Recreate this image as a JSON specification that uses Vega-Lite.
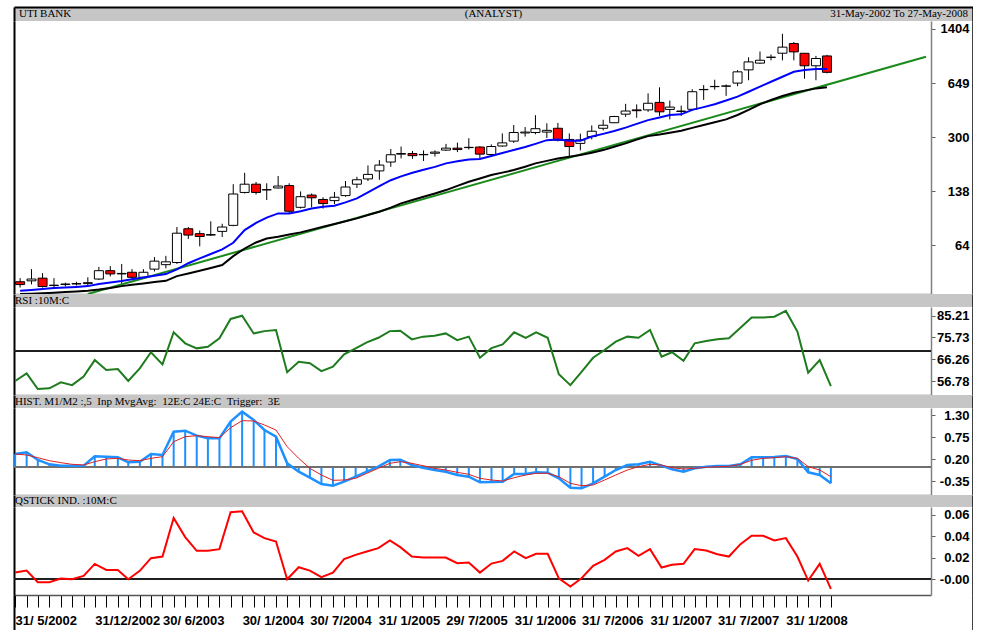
{
"$schema":"https://vega.github.io/schema/vega-lite/v6.json",
"background":"white",
"padding":{"left":10,"top":7,"right":0,"bottom":0},
"spacing":0,
"bounds":"flush",
"config":{"view":{"stroke":null},"font":"Liberation Sans"},
"datasets":{
"m":[
{"date":"2002-05-01T00:00","open":38,"high":40,"low":35,"close":36.5,"maShort":33.4,"maLong":31.9,"rsi":56.8,"hist":0.325,"trigger":0.325,"qstick":0.0062},
{"date":"2002-06-01T00:00","open":38.5,"high":45.5,"low":36.6,"close":39.5,"maShort":33.8,"maLong":32.0,"rsi":60.1,"hist":0.367,"trigger":0.30,"qstick":0.0081},
{"date":"2002-07-01T00:00","open":40,"high":43,"low":35,"close":35.5,"maShort":34.3,"maLong":32.2,"rsi":53.3,"hist":0.175,"trigger":0.233,"qstick":-0.0028},
{"date":"2002-08-01T00:00","open":36,"high":40,"low":34.5,"close":36.2,"maShort":34.8,"maLong":32.5,"rsi":53.6,"hist":0.067,"trigger":0.158,"qstick":-0.0028},
{"date":"2002-09-01T00:00","open":36.5,"high":37.5,"low":35.5,"close":36.8,"maShort":35.0,"maLong":32.8,"rsi":56.2,"hist":0.033,"trigger":0.108,"qstick":0.0006},
{"date":"2002-10-01T00:00","open":36.8,"high":38,"low":36,"close":37,"maShort":35.3,"maLong":33.1,"rsi":55.0,"hist":0.033,"trigger":0.067,"qstick":0},
{"date":"2002-11-01T00:00","open":37,"high":40.5,"low":36,"close":37.5,"maShort":35.7,"maLong":33.4,"rsi":58.7,"hist":0.033,"trigger":0.05,"qstick":0.0031},
{"date":"2002-12-01T00:00","open":39.5,"high":47,"low":39,"close":44.5,"maShort":36.8,"maLong":34.0,"rsi":65.9,"hist":0.267,"trigger":0.133,"qstick":0.0143},
{"date":"2003-01-01T00:00","open":44.5,"high":47.5,"low":41,"close":42.5,"maShort":37.6,"maLong":34.8,"rsi":61.6,"hist":0.258,"trigger":0.2,"qstick":0.0087},
{"date":"2003-02-01T00:00","open":42.5,"high":49,"low":36.5,"close":42.8,"maShort":38.4,"maLong":35.7,"rsi":62.0,"hist":0.242,"trigger":0.217,"qstick":0.0087},
{"date":"2003-03-01T00:00","open":43.5,"high":45.5,"low":39,"close":40.5,"maShort":39.4,"maLong":36.4,"rsi":56.8,"hist":0.117,"trigger":0.175,"qstick":0},
{"date":"2003-04-01T00:00","open":40.5,"high":45.5,"low":40,"close":43.5,"maShort":40.4,"maLong":37.1,"rsi":62.3,"hist":0.133,"trigger":0.158,"qstick":0.0078},
{"date":"2003-05-01T00:00","open":45.5,"high":54,"low":44,"close":51,"maShort":41.4,"maLong":37.8,"rsi":69.3,"hist":0.325,"trigger":0.217,"qstick":0.0196},
{"date":"2003-06-01T00:00","open":48.5,"high":55,"low":46,"close":50.5,"maShort":42.4,"maLong":38.5,"rsi":64.0,"hist":0.30,"trigger":0.258,"qstick":0.0211},
{"date":"2003-07-01T00:00","open":50,"high":83,"low":49,"close":76,"maShort":45.3,"maLong":41.2,"rsi":78.0,"hist":0.883,"trigger":0.633,"qstick":0.0569},
{"date":"2003-08-01T00:00","open":81,"high":83,"low":70,"close":74,"maShort":49.5,"maLong":42.8,"rsi":73.2,"hist":0.908,"trigger":0.758,"qstick":0.0392},
{"date":"2003-09-01T00:00","open":75.5,"high":79,"low":63,"close":72.5,"maShort":53,"maLong":44.5,"rsi":71.0,"hist":0.783,"trigger":0.783,"qstick":0.0264},
{"date":"2003-10-01T00:00","open":74,"high":90,"low":73,"close":74.5,"maShort":56.5,"maLong":46.3,"rsi":71.7,"hist":0.717,"trigger":0.758,"qstick":0.0264},
{"date":"2003-11-01T00:00","open":78,"high":87,"low":72,"close":83,"maShort":60.3,"maLong":48.2,"rsi":75.4,"hist":0.717,"trigger":0.733,"qstick":0.028},
{"date":"2003-12-01T00:00","open":85,"high":153,"low":84,"close":133,"maShort":66.3,"maLong":54.8,"rsi":83.8,"hist":1.133,"trigger":0.983,"qstick":0.0622},
{"date":"2004-01-01T00:00","open":136,"high":180,"low":134,"close":153,"maShort":79.4,"maLong":61.1,"rsi":85.2,"hist":1.383,"trigger":1.158,"qstick":0.0631},
{"date":"2004-02-01T00:00","open":153,"high":158,"low":132,"close":136,"maShort":88,"maLong":66.6,"rsi":77.5,"hist":1.175,"trigger":1.15,"qstick":0.0435},
{"date":"2004-03-01T00:00","open":141,"high":155,"low":122,"close":141.5,"maShort":95,"maLong":70.5,"rsi":78.5,"hist":0.925,"trigger":1.05,"qstick":0.0382},
{"date":"2004-04-01T00:00","open":145,"high":172,"low":144,"close":149,"maShort":100.8,"maLong":72.2,"rsi":79.0,"hist":0.758,"trigger":0.925,"qstick":0.0351},
{"date":"2004-05-01T00:00","open":150,"high":155,"low":100,"close":104,"maShort":100.8,"maLong":74.5,"rsi":60.6,"hist":0.092,"trigger":0.508,"qstick":0},
{"date":"2004-06-01T00:00","open":110,"high":138,"low":108,"close":128,"maShort":104,"maLong":76.9,"rsi":65.2,"hist":-0.117,"trigger":0.217,"qstick":0.0112},
{"date":"2004-07-01T00:00","open":131,"high":134,"low":110,"close":126,"maShort":108,"maLong":80,"rsi":64.5,"hist":-0.267,"trigger":-0.033,"qstick":0.0081},
{"date":"2004-08-01T00:00","open":123,"high":127,"low":108,"close":116,"maShort":110.9,"maLong":83.4,"rsi":61.1,"hist":-0.425,"trigger":-0.2,"qstick":0.0019},
{"date":"2004-09-01T00:00","open":121,"high":137,"low":115,"close":127,"maShort":112.5,"maLong":86.7,"rsi":63.0,"hist":-0.467,"trigger":-0.333,"qstick":0.0062},
{"date":"2004-10-01T00:00","open":130,"high":160,"low":128,"close":147,"maShort":118,"maLong":90.2,"rsi":68.4,"hist":-0.367,"trigger":-0.325,"qstick":0.0187},
{"date":"2004-11-01T00:00","open":153,"high":170,"low":145,"close":163,"maShort":125,"maLong":93.9,"rsi":71.0,"hist":-0.242,"trigger":-0.283,"qstick":0.0227},
{"date":"2004-12-01T00:00","open":165,"high":200,"low":160,"close":176,"maShort":136,"maLong":98.5,"rsi":73.6,"hist":-0.117,"trigger":-0.158,"qstick":0.0258},
{"date":"2005-01-01T00:00","open":185,"high":216,"low":163,"close":201,"maShort":149,"maLong":103.2,"rsi":75.6,"hist":0.008,"trigger":-0.033,"qstick":0.0289},
{"date":"2005-02-01T00:00","open":210,"high":253,"low":196,"close":233,"maShort":162,"maLong":109.5,"rsi":78.5,"hist":0.175,"trigger":0.092,"qstick":0.0361},
{"date":"2005-03-01T00:00","open":235,"high":262,"low":221,"close":237,"maShort":171,"maLong":116.3,"rsi":78.7,"hist":0.183,"trigger":0.133,"qstick":0.0298},
{"date":"2005-04-01T00:00","open":237,"high":246,"low":220,"close":230,"maShort":180,"maLong":122,"rsi":74.9,"hist":0.05,"trigger":0.092,"qstick":0.0211},
{"date":"2005-05-01T00:00","open":233,"high":248,"low":213,"close":234,"maShort":188,"maLong":127.9,"rsi":76.1,"hist":-0.017,"trigger":0.033,"qstick":0.0202},
{"date":"2005-06-01T00:00","open":238,"high":248,"low":227,"close":242,"maShort":196,"maLong":134,"rsi":76.5,"hist":-0.075,"trigger":-0.033,"qstick":0.0202},
{"date":"2005-07-01T00:00","open":249,"high":272,"low":246,"close":256,"maShort":206,"maLong":140.7,"rsi":77.5,"hist":-0.117,"trigger":-0.075,"qstick":0.0202},
{"date":"2005-08-01T00:00","open":256,"high":277,"low":242,"close":251,"maShort":212,"maLong":149.5,"rsi":74.6,"hist":-0.2,"trigger":-0.133,"qstick":0.0149},
{"date":"2005-09-01T00:00","open":258,"high":295,"low":251,"close":259,"maShort":218,"maLong":158.5,"rsi":76.1,"hist":-0.242,"trigger":-0.183,"qstick":0.0155},
{"date":"2005-10-01T00:00","open":260,"high":264,"low":221,"close":235,"maShort":219,"maLong":166,"rsi":66.9,"hist":-0.383,"trigger":-0.283,"qstick":0.0062},
{"date":"2005-11-01T00:00","open":234,"high":270,"low":228,"close":262,"maShort":229,"maLong":174.3,"rsi":71.1,"hist":-0.375,"trigger":-0.325,"qstick":0.0146},
{"date":"2005-12-01T00:00","open":264,"high":316,"low":261,"close":276,"maShort":239,"maLong":180.5,"rsi":72.7,"hist":-0.367,"trigger":-0.35,"qstick":0.0171},
{"date":"2006-01-01T00:00","open":283,"high":356,"low":276,"close":320,"maShort":249,"maLong":187.2,"rsi":78.0,"hist":-0.175,"trigger":-0.267,"qstick":0.0258},
{"date":"2006-02-01T00:00","open":318,"high":346,"low":302,"close":322,"maShort":260,"maLong":196.5,"rsi":75.6,"hist":-0.175,"trigger":-0.2,"qstick":0.0196},
{"date":"2006-03-01T00:00","open":320,"high":410,"low":312,"close":338,"maShort":272,"maLong":206,"rsi":78.0,"hist":-0.133,"trigger":-0.158,"qstick":0.0236},
{"date":"2006-04-01T00:00","open":322,"high":365,"low":296,"close":330,"maShort":287,"maLong":213.5,"rsi":75.6,"hist":-0.142,"trigger":-0.158,"qstick":0.0236},
{"date":"2006-05-01T00:00","open":340,"high":367,"low":282,"close":287,"maShort":290,"maLong":221,"rsi":59.7,"hist":-0.283,"trigger":-0.242,"qstick":0.0009},
{"date":"2006-06-01T00:00","open":290,"high":316,"low":228,"close":262,"maShort":285,"maLong":226.6,"rsi":55.0,"hist":-0.517,"trigger":-0.408,"qstick":-0.0068},
{"date":"2006-07-01T00:00","open":274,"high":315,"low":248,"close":288,"maShort":285,"maLong":232,"rsi":60.8,"hist":-0.533,"trigger":-0.467,"qstick":0.0009},
{"date":"2006-08-01T00:00","open":302,"high":354,"low":290,"close":326,"maShort":302,"maLong":240,"rsi":66.9,"hist":-0.408,"trigger":-0.45,"qstick":0.0124},
{"date":"2006-09-01T00:00","open":340,"high":384,"low":330,"close":355,"maShort":314,"maLong":249,"rsi":70.3,"hist":-0.242,"trigger":-0.325,"qstick":0.018},
{"date":"2006-10-01T00:00","open":368,"high":406,"low":366,"close":402,"maShort":327,"maLong":261,"rsi":73.9,"hist":-0.075,"trigger":-0.2,"qstick":0.0258},
{"date":"2006-11-01T00:00","open":416,"high":482,"low":400,"close":435,"maShort":343,"maLong":274,"rsi":76.1,"hist":0.05,"trigger":-0.075,"qstick":0.0289},
{"date":"2006-12-01T00:00","open":442,"high":478,"low":395,"close":437,"maShort":362,"maLong":289,"rsi":75.6,"hist":0.067,"trigger":0.008,"qstick":0.0218},
{"date":"2007-01-01T00:00","open":442,"high":560,"low":430,"close":486,"maShort":382,"maLong":304,"rsi":79.0,"hist":0.133,"trigger":0.067,"qstick":0.028},
{"date":"2007-02-01T00:00","open":492,"high":610,"low":406,"close":430,"maShort":397,"maLong":311,"rsi":67.4,"hist":0.033,"trigger":0.05,"qstick":0.0109},
{"date":"2007-03-01T00:00","open":445,"high":505,"low":386,"close":460,"maShort":411,"maLong":319,"rsi":69.3,"hist":-0.058,"trigger":-0.017,"qstick":0.0134},
{"date":"2007-04-01T00:00","open":432,"high":470,"low":406,"close":435,"maShort":415,"maLong":328,"rsi":65.6,"hist":-0.117,"trigger":-0.05,"qstick":0.0143},
{"date":"2007-05-01T00:00","open":446,"high":593,"low":437,"close":573,"maShort":442,"maLong":342,"rsi":73.2,"hist":-0.033,"trigger":-0.033,"qstick":0.028},
{"date":"2007-06-01T00:00","open":590,"high":630,"low":510,"close":592,"maShort":460,"maLong":356,"rsi":74.2,"hist":0.008,"trigger":-0.008,"qstick":0.0267},
{"date":"2007-07-01T00:00","open":616,"high":680,"low":590,"close":618,"maShort":479,"maLong":371,"rsi":75.0,"hist":0.025,"trigger":0.008,"qstick":0.0233},
{"date":"2007-08-01T00:00","open":620,"high":636,"low":540,"close":622,"maShort":505,"maLong":386,"rsi":75.4,"hist":0.025,"trigger":0.017,"qstick":0.0211},
{"date":"2007-09-01T00:00","open":648,"high":780,"low":620,"close":761,"maShort":534,"maLong":411,"rsi":80.0,"hist":0.067,"trigger":0.067,"qstick":0.0326},
{"date":"2007-10-01T00:00","open":783,"high":936,"low":675,"close":877,"maShort":573,"maLong":442,"rsi":84.4,"hist":0.242,"trigger":0.167,"qstick":0.0404},
{"date":"2007-11-01T00:00","open":862,"high":1017,"low":853,"close":898,"maShort":616,"maLong":479,"rsi":84.4,"hist":0.242,"trigger":0.217,"qstick":0.0404},
{"date":"2007-12-01T00:00","open":936,"high":975,"low":897,"close":938,"maShort":661,"maLong":509,"rsi":84.8,"hist":0.25,"trigger":0.233,"qstick":0.0361},
{"date":"2008-01-01T00:00","open":993,"high":1310,"low":897,"close":1083,"maShort":710,"maLong":539,"rsi":87.3,"hist":0.275,"trigger":0.258,"qstick":0.0382},
{"date":"2008-02-01T00:00","open":1140,"high":1165,"low":897,"close":1012,"maShort":762,"maLong":565,"rsi":78.3,"hist":0.2,"trigger":0.217,"qstick":0.0211},
{"date":"2008-03-01T00:00","open":992,"high":995,"low":690,"close":830,"maShort":781,"maLong":582,"rsi":60.4,"hist":-0.133,"trigger":0.008,"qstick":-0.0012},
{"date":"2008-04-01T00:00","open":830,"high":955,"low":675,"close":921,"maShort":792,"maLong":601,"rsi":65.9,"hist":-0.2,"trigger":-0.075,"qstick":0.0143},
{"date":"2008-05-01T00:00","open":955,"high":970,"low":745,"close":756,"maShort":792,"maLong":610,"rsi":54.6,"hist":-0.408,"trigger":-0.242,"qstick":-0.009}
],
"trend":[
{"date":"2002-11-01T00:00","value":31.9},
{"date":"2009-01-25T00:00","value":945}
],
"headers":[
{"panel":"main","side":"left","label":"UTI BANK"},
{"panel":"main","side":"center","label":"(ANALYST)"},
{"panel":"main","side":"right","label":"31-May-2002 To 27-May-2008"},
{"panel":"rsi","side":"left","label":"RSI :10M:C"},
{"panel":"hist","side":"left","label":"HIST. M1/M2 :,5 \u00a0Inp MvgAvg: \u00a012E:C 24E:C \u00a0Trigger: \u00a03E"},
{"panel":"qstick","side":"left","label":"QSTICK IND. :10M:C"}
],
"one":[{"k":1}]
},
"vconcat":[
{
"width":959,"height":14,
"view":{"fill":"#c6c6c6","stroke":null},
"layer":[
{"data":{"name":"headers"},"transform":[{"filter":"datum.panel === 'main' && datum.side === 'left'"}],
"mark":{"type":"text","align":"left","baseline":"middle","dx":5,"font":"Liberation Serif","fontSize":11,"color":"#000"},
"encoding":{"x":{"datum":0,"type":"quantitative","scale":{"domain":[0,1]},"axis":{"orient":"top","domainColor":"#000","domainWidth":2,"ticks":false,"labels":false,"grid":false,"title":null}},
"y":{"datum":0.5,"type":"quantitative","scale":{"domain":[0,1]},"axis":{"orient":"left","domainColor":"#000","domainWidth":2,"ticks":false,"labels":false,"grid":false,"title":null}},
"text":{"field":"label"}}},
{"data":{"name":"headers"},"transform":[{"filter":"datum.panel === 'main' && datum.side === 'center'"}],
"mark":{"type":"text","align":"center","baseline":"middle","font":"Liberation Serif","fontSize":11,"color":"#000"},
"encoding":{"x":{"datum":0.5,"type":"quantitative"},"y":{"datum":0.5,"type":"quantitative","scale":{"domain":[0,1]},"axis":null},"text":{"field":"label"}}},
{"data":{"name":"headers"},"transform":[{"filter":"datum.panel === 'main' && datum.side === 'right'"}],
"mark":{"type":"text","align":"right","baseline":"middle","dx":-5,"font":"Liberation Serif","fontSize":11,"color":"#000"},
"encoding":{"x":{"datum":1,"type":"quantitative"},"y":{"datum":0.5,"type":"quantitative","scale":{"domain":[0,1]},"axis":{"orient":"right","domainColor":"#000","domainWidth":2.5,"ticks":false,"labels":false,"grid":false,"title":null}},"text":{"field":"label"}}}
],
"resolve":{"scale":{"y":"independent"}}
},
{
"width":917,"height":273,
"data":{"name":"m"},
"layer":[
{"mark":{"type":"rule","color":"#000","strokeWidth":1,"clip":true},
"encoding":{
"x":{"field":"date","type":"temporal","scale":{"domain":[{"year":2002,"month":4,"date":28},{"year":2009,"month":1,"date":25}]},"axis":{"orient":"bottom","labels":false,"ticks":false,"grid":false,"domainColor":"#808080","domainWidth":1.5,"title":null}},
"y":{"field":"low","type":"quantitative","scale":{"type":"log","domain":[31.9,1573]},"axis":{"orient":"left","domainColor":"#000","domainWidth":2,"ticks":false,"labels":false,"grid":false,"title":null}},
"y2":{"field":"high"}}},
{"mark":{"type":"bar","width":9,"stroke":"#000","strokeWidth":1,"clip":true},
"encoding":{"x":{"field":"date","type":"temporal"},"y":{"field":"open","type":"quantitative","scale":{"type":"log","domain":[31.9,1573]},"axis":null},"y2":{"field":"close"},
"fill":{"condition":{"test":"datum.close < datum.open","value":"#ff0000"},"value":"#ffffff"}}},
{"data":{"name":"trend"},"mark":{"type":"line","color":"#1a8a1a","strokeWidth":2,"clip":true},
"encoding":{"x":{"field":"date","type":"temporal"},"y":{"field":"value","type":"quantitative","scale":{"type":"log","domain":[31.9,1573]},"axis":null}}},
{"mark":{"type":"line","color":"#000","strokeWidth":2,"clip":true},
"encoding":{"x":{"field":"date","type":"temporal"},"y":{"field":"maLong","type":"quantitative","scale":{"type":"log","domain":[31.9,1573]},"axis":{"orient":"right","offset":42,"domainColor":"#000","domainWidth":2.5,"ticks":false,"labels":false,"grid":false,"title":null}}}},
{"mark":{"type":"line","color":"#0000ff","strokeWidth":2,"clip":true},
"encoding":{"x":{"field":"date","type":"temporal"},"y":{"field":"maShort","type":"quantitative","scale":{"type":"log","domain":[31.9,1573]},"axis":{"orient":"right","values":[64,138,300,649,1404],"format":"d","tickSize":4,"tickColor":"#606060","domainColor":"#808080","domainWidth":1.5,"labelAlign":"right","labelBaseline":"middle","labelPadding":34,"labelFont":"Liberation Sans","labelFontWeight":"bold","labelFontSize":13,"labelColor":"#000","grid":false,"title":null}}}}
],
"resolve":{"scale":{"y":"independent"}}
},
{
"width":959,"height":13,
"view":{"fill":"#c6c6c6","stroke":null},
"data":{"name":"headers"},
"transform":[{"filter":"datum.panel === 'rsi'"}],
"layer":[
{"mark":{"type":"text","align":"left","baseline":"middle","dx":1,"font":"Liberation Serif","fontSize":11,"color":"#000"},
"encoding":{"x":{"datum":0,"type":"quantitative","scale":{"domain":[0,1]},"axis":null},
"y":{"datum":0.5,"type":"quantitative","scale":{"domain":[0,1]},"axis":{"orient":"left","domainColor":"#000","domainWidth":2,"ticks":false,"labels":false,"grid":false,"title":null}},
"text":{"field":"label"}}},
{"mark":{"type":"text","opacity":0,"align":"left"},
"encoding":{"x":{"datum":0,"type":"quantitative"},"y":{"datum":0.5,"type":"quantitative","scale":{"domain":[0,1]},"axis":{"orient":"right","domainColor":"#000","domainWidth":2.5,"ticks":false,"labels":false,"grid":false,"title":null}},"text":{"value":""}}}
],
"resolve":{"scale":{"y":"independent"}}
},
{
"width":917,"height":88,
"data":{"name":"m"},
"layer":[
{"mark":{"type":"rule","color":"#222","strokeWidth":1},
"encoding":{"y":{"datum":70,"type":"quantitative","scale":{"domain":[50.7,89.0],"zero":false,"nice":false},"axis":{"orient":"left","domainColor":"#000","domainWidth":2,"ticks":false,"labels":false,"grid":false,"title":null}}}},
{"mark":{"type":"line","color":"#1e7b1e","strokeWidth":2},
"encoding":{"x":{"field":"date","type":"temporal","scale":{"domain":[{"year":2002,"month":4,"date":28},{"year":2009,"month":1,"date":25}]},"axis":{"orient":"bottom","labels":false,"ticks":false,"grid":false,"domainColor":"#808080","domainWidth":1.5,"title":null}},
"y":{"field":"rsi","type":"quantitative","scale":{"domain":[50.7,89.0],"zero":false,"nice":false},"axis":{"orient":"right","values":[56.78,66.26,75.73,85.21],"format":".2f","tickSize":4,"tickColor":"#606060","domainColor":"#808080","domainWidth":1.5,"labelAlign":"right","labelBaseline":"middle","labelPadding":34,"labelFont":"Liberation Sans","labelFontWeight":"bold","labelFontSize":13,"labelColor":"#000","grid":false,"title":null}}}},
{"mark":{"type":"line","opacity":0},
"encoding":{"x":{"field":"date","type":"temporal"},"y":{"field":"rsi","type":"quantitative","scale":{"domain":[50.7,89.0],"zero":false,"nice":false},"axis":{"orient":"right","offset":42,"domainColor":"#000","domainWidth":2.5,"ticks":false,"labels":false,"grid":false,"title":null}}}}
],
"resolve":{"scale":{"y":"independent"}}
},
{
"width":959,"height":13,
"view":{"fill":"#c6c6c6","stroke":null},
"data":{"name":"headers"},
"transform":[{"filter":"datum.panel === 'hist'"}],
"layer":[
{"mark":{"type":"text","align":"left","baseline":"middle","dx":1,"font":"Liberation Serif","fontSize":11,"color":"#000"},
"encoding":{"x":{"datum":0,"type":"quantitative","scale":{"domain":[0,1]},"axis":null},
"y":{"datum":0.5,"type":"quantitative","scale":{"domain":[0,1]},"axis":{"orient":"left","domainColor":"#000","domainWidth":2,"ticks":false,"labels":false,"grid":false,"title":null}},
"text":{"field":"label"}}},
{"mark":{"type":"text","opacity":0,"align":"left"},
"encoding":{"x":{"datum":0,"type":"quantitative"},"y":{"datum":0.5,"type":"quantitative","scale":{"domain":[0,1]},"axis":{"orient":"right","domainColor":"#000","domainWidth":2.5,"ticks":false,"labels":false,"grid":false,"title":null}},"text":{"value":""}}}
],
"resolve":{"scale":{"y":"independent"}}
},
{
"width":917,"height":87,
"data":{"name":"m"},
"layer":[
{"mark":{"type":"rule","color":"#1e90ff","strokeWidth":2},
"encoding":{"x":{"field":"date","type":"temporal","scale":{"domain":[{"year":2002,"month":4,"date":28},{"year":2009,"month":1,"date":25}]},"axis":{"orient":"bottom","labels":false,"ticks":false,"grid":false,"domainColor":"#808080","domainWidth":1.5,"title":null}},
"y":{"field":"hist","type":"quantitative","scale":{"domain":[-0.70,1.475],"zero":false,"nice":false},"axis":{"orient":"left","domainColor":"#000","domainWidth":2,"ticks":false,"labels":false,"grid":false,"title":null}},
"y2":{"datum":0}}},
{"mark":{"type":"rule","color":"#707070","strokeWidth":2},
"encoding":{"y":{"datum":0,"type":"quantitative","scale":{"domain":[-0.70,1.475],"zero":false,"nice":false},"axis":null}}},
{"mark":{"type":"line","color":"#1e90ff","strokeWidth":2.5},
"encoding":{"x":{"field":"date","type":"temporal"},"y":{"field":"hist","type":"quantitative","scale":{"domain":[-0.70,1.475],"zero":false,"nice":false},"axis":{"orient":"right","values":[-0.35,0.2,0.75,1.3],"labelExpr":"datum.value < 0 ? '-' + format(-datum.value, '.2f') : format(datum.value, '.2f')","tickSize":4,"tickColor":"#606060","domainColor":"#808080","domainWidth":1.5,"labelAlign":"right","labelBaseline":"middle","labelPadding":34,"labelFont":"Liberation Sans","labelFontWeight":"bold","labelFontSize":13,"labelColor":"#000","grid":false,"title":null}}}},
{"mark":{"type":"line","color":"#e02020","strokeWidth":1},
"encoding":{"x":{"field":"date","type":"temporal"},"y":{"field":"trigger","type":"quantitative","scale":{"domain":[-0.70,1.475],"zero":false,"nice":false},"axis":{"orient":"right","offset":42,"domainColor":"#000","domainWidth":2.5,"ticks":false,"labels":false,"grid":false,"title":null}}}}
],
"resolve":{"scale":{"y":"independent"}}
},
{
"width":959,"height":12,
"view":{"fill":"#c6c6c6","stroke":null},
"data":{"name":"headers"},
"transform":[{"filter":"datum.panel === 'qstick'"}],
"layer":[
{"mark":{"type":"text","align":"left","baseline":"middle","dx":1,"font":"Liberation Serif","fontSize":11,"color":"#000"},
"encoding":{"x":{"datum":0,"type":"quantitative","scale":{"domain":[0,1]},"axis":null},
"y":{"datum":0.5,"type":"quantitative","scale":{"domain":[0,1]},"axis":{"orient":"left","domainColor":"#000","domainWidth":2,"ticks":false,"labels":false,"grid":false,"title":null}},
"text":{"field":"label"}}},
{"mark":{"type":"text","opacity":0,"align":"left"},
"encoding":{"x":{"datum":0,"type":"quantitative"},"y":{"datum":0.5,"type":"quantitative","scale":{"domain":[0,1]},"axis":{"orient":"right","domainColor":"#000","domainWidth":2.5,"ticks":false,"labels":false,"grid":false,"title":null}},"text":{"value":""}}}
],
"resolve":{"scale":{"y":"independent"}}
},
{
"width":917,"height":88,
"data":{"name":"m"},
"layer":[
{"mark":{"type":"rule","color":"#222","strokeWidth":1},
"encoding":{"y":{"datum":0,"type":"quantitative","scale":{"domain":[-0.0146,0.0671],"zero":false,"nice":false},"axis":{"orient":"left","domainColor":"#000","domainWidth":2,"ticks":false,"labels":false,"grid":false,"title":null}}}},
{"mark":{"type":"line","color":"#ff0000","strokeWidth":2},
"encoding":{"x":{"field":"date","type":"temporal","scale":{"domain":[{"year":2002,"month":4,"date":28},{"year":2009,"month":1,"date":25}]},
"axis":{"orient":"bottom","tickCount":500,"values":[
{"year":2002,"month":5,"date":1},{"year":2002,"month":6,"date":1},{"year":2002,"month":7,"date":1},{"year":2002,"month":8,"date":1},{"year":2002,"month":9,"date":1},{"year":2002,"month":10,"date":1},{"year":2002,"month":11,"date":1},{"year":2002,"month":12,"date":1},
{"year":2003,"month":1,"date":1},{"year":2003,"month":2,"date":1},{"year":2003,"month":3,"date":1},{"year":2003,"month":4,"date":1},{"year":2003,"month":5,"date":1},{"year":2003,"month":6,"date":1},{"year":2003,"month":7,"date":1},{"year":2003,"month":8,"date":1},{"year":2003,"month":9,"date":1},{"year":2003,"month":10,"date":1},{"year":2003,"month":11,"date":1},{"year":2003,"month":12,"date":1},
{"year":2004,"month":1,"date":1},{"year":2004,"month":2,"date":1},{"year":2004,"month":3,"date":1},{"year":2004,"month":4,"date":1},{"year":2004,"month":5,"date":1},{"year":2004,"month":6,"date":1},{"year":2004,"month":7,"date":1},{"year":2004,"month":8,"date":1},{"year":2004,"month":9,"date":1},{"year":2004,"month":10,"date":1},{"year":2004,"month":11,"date":1},{"year":2004,"month":12,"date":1},
{"year":2005,"month":1,"date":1},{"year":2005,"month":2,"date":1},{"year":2005,"month":3,"date":1},{"year":2005,"month":4,"date":1},{"year":2005,"month":5,"date":1},{"year":2005,"month":6,"date":1},{"year":2005,"month":7,"date":1},{"year":2005,"month":8,"date":1},{"year":2005,"month":9,"date":1},{"year":2005,"month":10,"date":1},{"year":2005,"month":11,"date":1},{"year":2005,"month":12,"date":1},
{"year":2006,"month":1,"date":1},{"year":2006,"month":2,"date":1},{"year":2006,"month":3,"date":1},{"year":2006,"month":4,"date":1},{"year":2006,"month":5,"date":1},{"year":2006,"month":6,"date":1},{"year":2006,"month":7,"date":1},{"year":2006,"month":8,"date":1},{"year":2006,"month":9,"date":1},{"year":2006,"month":10,"date":1},{"year":2006,"month":11,"date":1},{"year":2006,"month":12,"date":1},
{"year":2007,"month":1,"date":1},{"year":2007,"month":2,"date":1},{"year":2007,"month":3,"date":1},{"year":2007,"month":4,"date":1},{"year":2007,"month":5,"date":1},{"year":2007,"month":6,"date":1},{"year":2007,"month":7,"date":1},{"year":2007,"month":8,"date":1},{"year":2007,"month":9,"date":1},{"year":2007,"month":10,"date":1},{"year":2007,"month":11,"date":1},{"year":2007,"month":12,"date":1},
{"year":2008,"month":1,"date":1},{"year":2008,"month":2,"date":1},{"year":2008,"month":3,"date":1},{"year":2008,"month":4,"date":1},{"year":2008,"month":5,"date":1}],
"labelExpr":"indexof(['2002-05','2002-12','2003-06','2004-01','2004-07','2005-01','2005-07','2006-01','2006-07','2007-01','2007-07','2008-01'], timeFormat(datum.value, '%Y-%m')) < 0 ? '' : ['31/ 5/2002','31/12/2002','30/ 6/2003','30/ 1/2004','30/ 7/2004','31/ 1/2005','29/ 7/2005','31/ 1/2006','31/ 7/2006','31/ 1/2007','31/ 7/2007','31/ 1/2008'][indexof(['2002-05','2002-12','2003-06','2004-01','2004-07','2005-01','2005-07','2006-01','2006-07','2007-01','2007-07','2008-01'], timeFormat(datum.value, '%Y-%m'))]",
"tickSize":12,"tickColor":"#000","tickWidth":1,"domainColor":"#555","domainWidth":1.5,"labelAlign":"left","labelDx":-1,"labelFont":"Liberation Sans","labelFontWeight":"bold","labelFontSize":13,"labelColor":"#000","labelPadding":7,"labelOverlap":false,"labelFlush":false,"grid":false,"title":null}},
"y":{"field":"qstick","type":"quantitative","scale":{"domain":[-0.0146,0.0671],"zero":false,"nice":false},"axis":{"orient":"right","values":[0,0.02,0.04,0.06],"labelExpr":"datum.value == 0 ? '-0.00' : format(datum.value, '.2f')","tickSize":4,"tickColor":"#606060","domainColor":"#808080","domainWidth":1.5,"labelAlign":"right","labelBaseline":"middle","labelPadding":34,"labelFont":"Liberation Sans","labelFontWeight":"bold","labelFontSize":13,"labelColor":"#000","grid":false,"title":null}}}},
{"mark":{"type":"line","opacity":0},
"encoding":{"x":{"field":"date","type":"temporal"},"y":{"field":"qstick","type":"quantitative","scale":{"domain":[-0.0146,0.0671],"zero":false,"nice":false},"axis":{"orient":"right","offset":42,"domainColor":"#000","domainWidth":2.5,"ticks":false,"labels":false,"grid":false,"title":null}}}}
],
"resolve":{"scale":{"y":"independent"}}
},
{
"width":959,"height":36,
"view":{"stroke":null},
"data":{"name":"one"},
"layer":[
{"mark":{"type":"text","opacity":0,"align":"left"},
"encoding":{"x":{"datum":0,"type":"quantitative","scale":{"domain":[0,1]},"axis":null},"y":{"datum":0.5,"type":"quantitative","scale":{"domain":[0,1]},"axis":{"orient":"left","domainColor":"#000","domainWidth":2,"ticks":false,"labels":false,"grid":false,"title":null}},"text":{"value":""}}},
{"mark":{"type":"text","opacity":0,"align":"left"},
"encoding":{"x":{"datum":0,"type":"quantitative"},"y":{"datum":0.5,"type":"quantitative","scale":{"domain":[0,1]},"axis":{"orient":"right","domainColor":"#000","domainWidth":2.5,"ticks":false,"labels":false,"grid":false,"title":null}},"text":{"value":""}}}
],
"resolve":{"scale":{"y":"independent"}}
}
]
}
